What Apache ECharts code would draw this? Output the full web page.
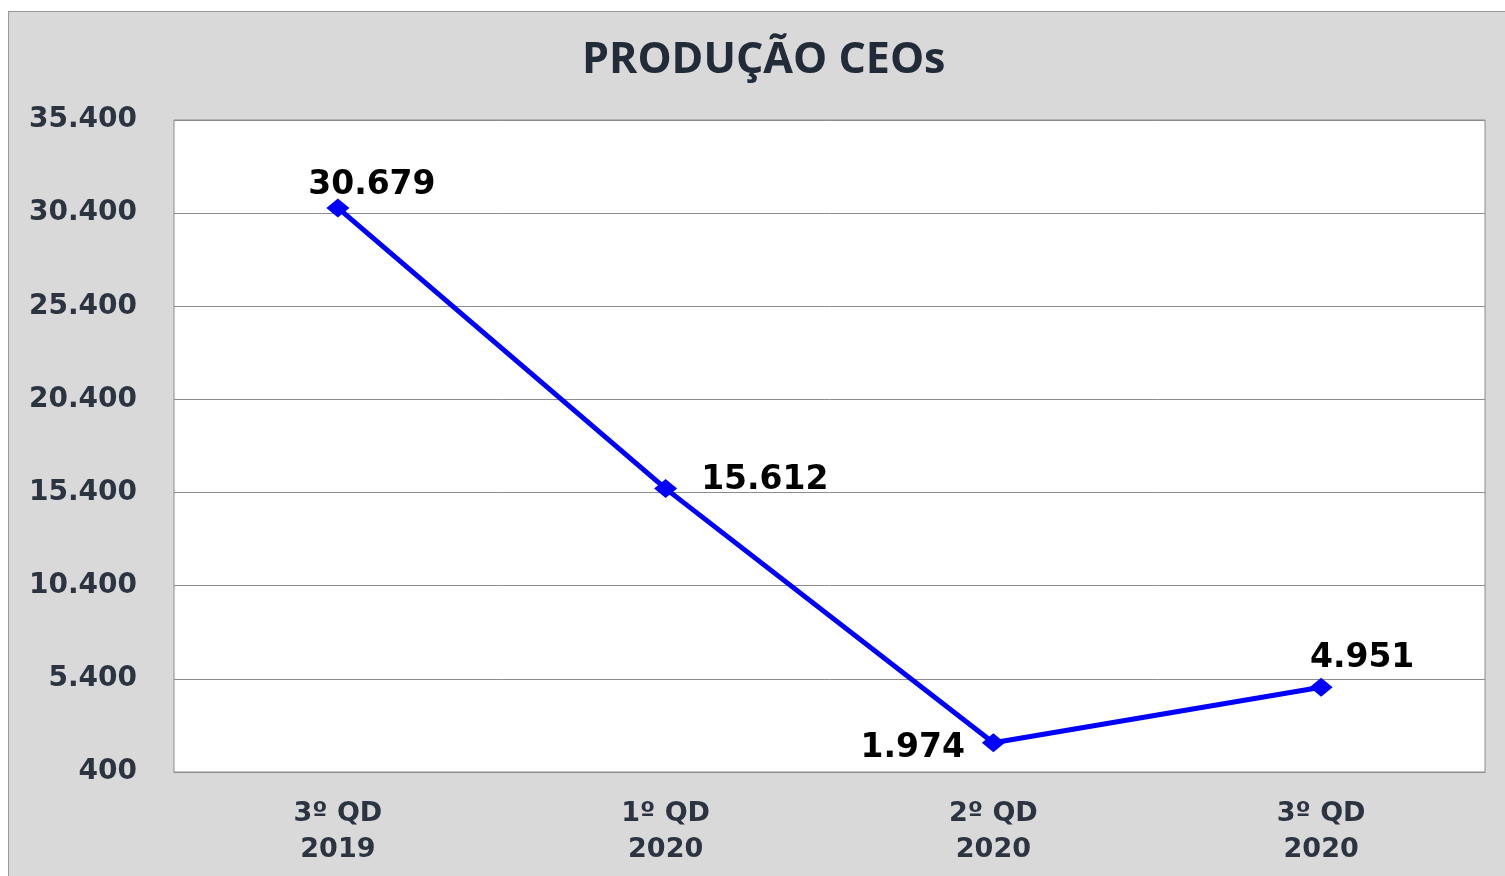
<!DOCTYPE html>
<html>
<head>
<meta charset="utf-8">
<script src="https://cdn.jsdelivr.net/npm/echarts@6/dist/echarts.min.js"></script>
<style>
  html, body { margin: 0; padding: 0; background: #ffffff; }
  .panel {
    position: absolute; left: 8px; top: 11px; width: 1497px; height: 865px;
    background: #d9d9d9; border-left: 1px solid #9a9a9a; border-top: 1px solid #9a9a9a;
  }
  #chart { position: absolute; left: 0; top: 0; width: 1505px; height: 876px; }
</style>
</head>
<body>
<div class="panel"></div>
<div id="chart"></div>
<script>
  // dados
  var categories = ['3º QD\n2019', '1º QD\n2020', '2º QD\n2020', '3º QD\n2020']
  var producao = [30679, 15612, 1974, 4951]
  var yTicks = [400, 5400, 10400, 15400, 20400, 25400, 30400, 35400]

  function fmt(v){
    return String(v).replace(/\B(?=(\d{3})+(?!\d))/g, '.')
  }

  // posição de cada rótulo
  var labelCfg = [
    { position: 'top', distance: 7, offset: [34, 10] },
    { position: 'right', distance: 24, offset: [0, -8] },
    { position: 'left', distance: 17, offset: [0, 6] },
    { position: 'top', distance: 15, offset: [41, 12] }
  ]

  var myChart = echarts.init(document.getElementById('chart'))
  var option = {
    animation: false,
    title: {
      text: 'PRODUÇÃO CEOs',
      left: 577,
      top: 34,
      textStyle: {
        fontFamily: 'Open Sans',
        fontWeight: 'bold',
        fontSize: 43,
        color: '#222b38'
      }
    },
    grid: {
      left: 174,
      right: 20,
      top: 120,
      bottom: 104,
      show: true,
      backgroundColor: '#ffffff',
      borderColor: '#8c8c8c',
      borderWidth: 1
    },
    xAxis: {
      type: 'category',
      data: categories,
      boundaryGap: true,
      axisLine: { show: true, lineStyle: { color: '#8c8c8c', width: 1 } },
      axisTick: { show: false },
      axisLabel: {
        margin: 24,
        fontFamily: 'DejaVu Sans',
        fontWeight: 'bold',
        fontSize: 27,
        lineHeight: 36,
        color: '#2b3440'
      }
    },
    yAxis: {
      type: 'value',
      min: yTicks[0],
      max: yTicks[yTicks.length - 1],
      interval: yTicks[1] - yTicks[0],
      axisLine: { show: false },
      axisTick: { show: false },
      splitLine: { show: true, lineStyle: { color: '#8c8c8c', width: 1 } },
      axisLabel: {
        margin: 37,
        padding: [4, 0, 0, 0],
        fontFamily: 'DejaVu Sans',
        fontWeight: 'bold',
        fontSize: 28,
        color: '#2b3440',
        formatter: function(v){ return fmt(v) }
      }
    },
    series: [
      {
        name: 'Produção',
        type: 'line',
        data: producao.map(function(v, i){
          return { value: v, label: labelCfg[i] }
        }),
        symbol: 'diamond',
        symbolSize: [23, 19],
        lineStyle: { color: '#0000ff', width: 5 },
        itemStyle: { color: '#0000ff' },
        label: {
          show: true,
          fontFamily: 'DejaVu Sans',
          fontWeight: 'bold',
          fontSize: 33,
          color: '#000000',
          formatter: function(p){ return fmt(p.value) }
        }
      }
    ]
  }
  myChart.setOption(option)
</script>
</body>
</html>
